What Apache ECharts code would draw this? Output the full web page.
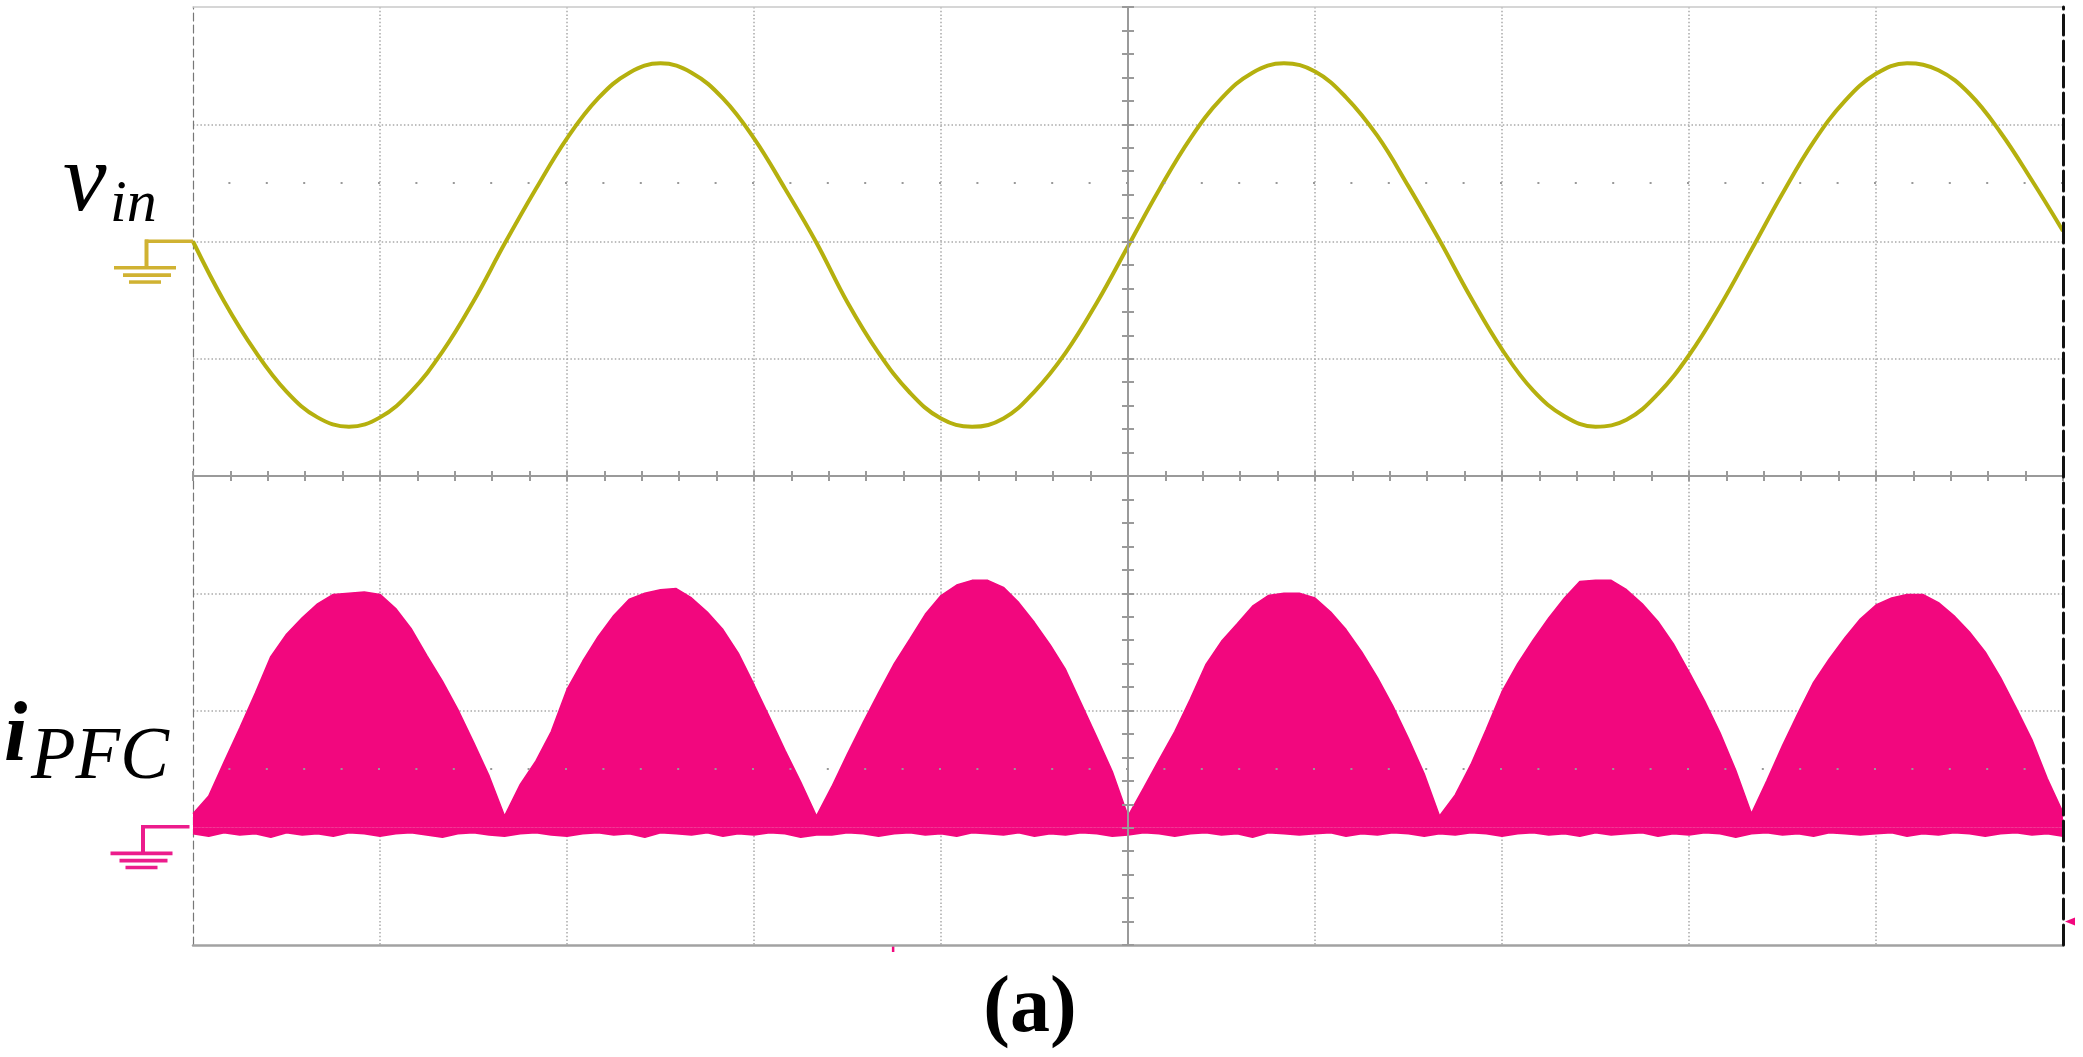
<!DOCTYPE html>
<html><head><meta charset="utf-8">
<script src="https://cdn.jsdelivr.net/npm/echarts@6/dist/echarts.min.js"></script>
<style>html,body{margin:0;padding:0;background:#fff;}#c{width:2083px;height:1057px;}</style>
</head><body><div id="c"></div>
<script>
// ---- data (time in ms, 5 ms/div; vin in V, 100 V/div; iPFC in A, 1 A/div) ----
const timeRange = [-25, 25];
const timeStep = 5;
const vinRange = [-200, 200];
const iRange = [-1, 3];
const vinDotLevel = 50;
const iDotLevel = 0.5;

const tV = [-25,-24.17,-23.33,-22.5,-21.67,-20.83,-20,-19.17,-18.33,-17.5,-16.67,-15.83,-15,-14.17,-13.33,-12.5,-11.67,-10.83,-10,-9.17,-8.33,
  -7.5,-6.67,-5.83,-5,-4.17,-3.33,-2.5,-1.67,-0.83,0,0.83,1.67,2.5,3.33,4.17,5,5.83,6.67,7.5,8.33,
  9.17,10,10.83,11.67,12.5,13.33,14.17,15,15.83,16.67,17.5,18.33,19.17,20,20.83,21.67,22.5,23.33,24.17,25];
const vin = [0,-51,-94,-128,-150,-158,-150,-128,-94,-51,-2,45,88,122,144,152,144,122,88,45,-1,
  -52,-95,-129,-151,-158,-151,-128,-95,-52,-4,44,88,122,144,152,145,123,90,47,1,
  -48,-92,-127,-149,-158,-152,-130,-97,-55,-7,41,85,120,143,152,146,126,93,52,9];

const tI = [-25,-24.58,-24.17,-23.75,-23.33,-22.92,-22.5,-22.08,-21.67,-21.25,-20.83,-20.42,-20,-19.58,-19.17,-18.75,-18.33,-17.92,-17.5,-17.08,-16.67,
  -16.25,-15.83,-15.42,-15,-14.58,-14.17,-13.75,-13.33,-12.92,-12.5,-12.08,-11.67,-11.25,-10.83,-10.42,-10,-9.58,-9.17,-8.75,-8.33,
  -7.92,-7.5,-7.08,-6.67,-6.25,-5.83,-5.42,-5,-4.58,-4.17,-3.75,-3.33,-2.92,-2.5,-2.08,-1.67,-1.25,-0.83,-0.42,0,
  0.42,0.83,1.25,1.67,2.08,2.5,2.92,3.33,3.75,4.17,4.58,5,5.42,5.83,6.25,6.67,7.08,7.5,7.92,8.33,
  8.75,9.17,9.58,10,10.42,10.83,11.25,11.67,12.08,12.5,12.92,13.33,13.75,14.17,14.58,15,15.42,15.83,16.25,16.67,
  17.08,17.5,17.92,18.33,18.75,19.17,19.58,20,20.42,20.83,21.25,21.67,22.08,22.5,22.92,23.33,23.75,24.17,24.58,25];
const iUpper = [0.12,0.27,0.56,0.85,1.15,1.46,1.65,1.79,1.91,1.99,2.00,2.01,1.99,1.87,1.70,1.47,1.25,1.01,0.73,0.44,0.10,
  0.37,0.57,0.82,1.18,1.42,1.63,1.81,1.95,2.00,2.03,2.04,1.96,1.84,1.69,1.49,1.22,0.94,0.66,0.39,0.10,
  0.35,0.63,0.90,1.15,1.40,1.61,1.82,1.98,2.07,2.11,2.11,2.05,1.92,1.75,1.56,1.35,1.06,0.77,0.48,0.10,
  0.34,0.58,0.82,1.10,1.39,1.59,1.74,1.89,1.98,2.00,2.00,1.96,1.84,1.69,1.50,1.28,1.04,0.76,0.46,0.10,
  0.28,0.54,0.84,1.16,1.40,1.60,1.79,1.96,2.10,2.11,2.11,2.03,1.91,1.76,1.57,1.33,1.08,0.81,0.49,0.12,
  0.40,0.70,0.98,1.24,1.44,1.62,1.78,1.90,1.96,1.99,1.99,1.92,1.81,1.67,1.50,1.28,1.02,0.75,0.42,0.13];
const iLower = [-0.05,-0.07,-0.04,-0.06,-0.05,-0.08,-0.04,-0.06,-0.05,-0.07,-0.04,-0.05,-0.07,-0.05,-0.04,-0.06,-0.08,-0.05,-0.04,-0.06,-0.07,
  -0.05,-0.04,-0.06,-0.07,-0.05,-0.04,-0.06,-0.05,-0.08,-0.04,-0.05,-0.06,-0.04,-0.07,-0.05,-0.06,-0.04,-0.05,-0.08,-0.06,
  -0.06,-0.04,-0.05,-0.07,-0.05,-0.04,-0.06,-0.05,-0.07,-0.04,-0.05,-0.06,-0.04,-0.07,-0.05,-0.06,-0.04,-0.05,-0.07,-0.06,
  -0.04,-0.05,-0.07,-0.05,-0.04,-0.06,-0.05,-0.08,-0.04,-0.05,-0.06,-0.05,-0.04,-0.07,-0.05,-0.06,-0.04,-0.05,-0.07,-0.05,
  -0.06,-0.04,-0.05,-0.07,-0.05,-0.04,-0.06,-0.05,-0.07,-0.04,-0.06,-0.05,-0.04,-0.07,-0.05,-0.06,-0.04,-0.05,-0.08,-0.05,
  -0.04,-0.06,-0.05,-0.07,-0.04,-0.05,-0.06,-0.05,-0.04,-0.07,-0.05,-0.06,-0.04,-0.05,-0.07,-0.05,-0.04,-0.06,-0.05,-0.07];
// channel markers (trigger level arrow, trigger position tick)
const iLevelMarker = [25, -0.8];
const trigPosMarker = [-6.28, -1];

// ---- styles ----
const GOLD = '#d0b232', OLIVE = '#b5b00e', PINK = '#f2077e', PINKG = '#ec1c8c';
const GRIDC = '#a9a9a9', CENTER = '#9a9a9a';

const vinData = tV.map((t, i) => [t, vin[i]]);
const lowData = tI.map((t, i) => [t, iLower[i]]);
const upData = tI.map((t, i) => [t, iUpper[i]]);

const L = 193, R = 20, T = 7, H = 469;
const hidden = {axisLine:{show:false}, axisTick:{show:false}, axisLabel:{show:false}, splitLine:{show:false}};
function tAxis(grid, extra) {
  return Object.assign({type:'value', gridIndex:grid, min:timeRange[0], max:timeRange[1], interval:timeStep}, hidden, extra || {});
}
const tickStyle = {color: CENTER, width: 2};
const centerX = (pos) => tAxis(2, {position:pos, offset:-H, z:6,
  axisLine:{show:true, onZero:false, lineStyle:{color:CENTER, width:2}},
  axisTick:{show:true, length:5, lineStyle:tickStyle},
  minorTick:{show:true, splitNumber:5, length:5, lineStyle:tickStyle}});
const centerY = (pos) => Object.assign({type:'value', gridIndex:2, min:-4, max:4, interval:1}, hidden, {position:pos, offset:-935, z:6,
  axisLine:{show:true, onZero:false, lineStyle:{color:CENTER, width:2}},
  axisTick:{show:true, length:6, lineStyle:tickStyle},
  minorTick:{show:true, splitNumber:5, length:6, lineStyle:tickStyle}});

const option = {
  animation:false,
  backgroundColor:'#fff',
  grid:[
    {left:L, right:R, top:T, height:H, containLabel:false, outerBoundsMode:'none'},
    {left:L, right:R, top:T+H, height:H, containLabel:false, outerBoundsMode:'none'},
    {left:L, right:R, top:T, height:2*H, containLabel:false, outerBoundsMode:'none'}
  ],
  xAxis:[
    tAxis(0, {position:'bottom'}),
    tAxis(1, {position:'bottom'}),
    centerX('bottom'),
    centerX('top'),
    tAxis(2, {position:'top', z:0,
      axisLine:{show:true, onZero:false, lineStyle:{color:'#c9c9c9', width:1.5}},
      splitLine:{show:true, showMinLine:false, showMaxLine:false, lineStyle:{color:GRIDC, width:1.5, type:[1.5,2.2]}}}),
    tAxis(2, {position:'bottom', z:6,
      axisLine:{show:true, onZero:false, lineStyle:{color:'#a2a2a2', width:2.5}}})
  ],
  yAxis:[
    Object.assign({type:'value', gridIndex:0, min:vinRange[0], max:vinRange[1], interval:100}, hidden),
    Object.assign({type:'value', gridIndex:1, min:iRange[0], max:iRange[1], interval:1}, hidden),
    centerY('left'),
    centerY('right'),
    Object.assign({type:'value', gridIndex:2, min:-4, max:4, interval:1}, hidden, {position:'left', z:0,
      axisLine:{show:true, onZero:false, lineStyle:{color:'#777', width:1.2, type:[8,4]}},
      splitLine:{show:true, showMinLine:false, showMaxLine:false, lineStyle:{color:GRIDC, width:1.5, type:[1.5,2.2]}}}),
    Object.assign({type:'value', gridIndex:2, min:-4, max:4, interval:1}, hidden, {position:'right', z:7,
      axisLine:{show:true, onZero:false, lineStyle:{color:'#111', width:3, type:[20,6]}}})
  ],
  series:[
    {name:'iPFC low', type:'line', xAxisIndex:1, yAxisIndex:1, data:lowData,
     symbol:'none', showSymbol:false, lineStyle:{color:PINK, width:2}, areaStyle:{color:PINK, opacity:1, origin:'auto'}, z:2, silent:true,
     markLine:{silent:true, symbol:['none','none'], label:{show:false}, data:[{yAxis:iDotLevel}],
       lineStyle:{color:'#999', width:2, type:[2,35.4], dashOffset:2}},
     markPoint:{silent:true, label:{show:false}, data:[
       {coord:iLevelMarker, symbol:'triangle', symbolSize:[8,10], symbolRotate:90, symbolOffset:[7,0], itemStyle:{color:PINK}},
       {coord:trigPosMarker, symbol:'rect', symbolSize:[2.5,6], symbolOffset:[0,4], itemStyle:{color:PINK}}]}},
    {name:'iPFC', type:'line', xAxisIndex:1, yAxisIndex:1, data:upData,
     symbol:'none', showSymbol:false, lineStyle:{color:PINK, width:1.5}, areaStyle:{color:PINK, opacity:1, origin:'auto'}, z:3, silent:true},
    {name:'vin', type:'line', xAxisIndex:0, yAxisIndex:0, data:vinData, smooth:0.4,
     symbol:'none', showSymbol:false, lineStyle:{color:OLIVE, width:4}, z:4, silent:true,
     markLine:{silent:true, symbol:['none','none'], label:{show:false}, data:[{yAxis:vinDotLevel}],
       lineStyle:{color:'#999', width:2, type:[2,35.4], dashOffset:2}}}
  ]
};
const chart = echarts.init(document.getElementById('c'), null, {renderer:'canvas'});
chart.setOption(option);

function ground(anchor, color, dx, dy) {
  const rects = [[-48,-2,48,3.5],[-48.5,-2,4,29.5],[-79,24.5,62,3.6],[-70,31.8,48,3.6],[-64,38.8,32,3.5]];
  return {type:'group', x:anchor[0]+dx, y:anchor[1]+dy, z:20, children: rects.map(r => ({
    type:'rect', shape:{x:r[0], y:r[1], width:r[2], height:r[3]}, style:{fill:color}, z:20}))};
}
function txt(s, x, y, font, align) {
  return {type:'text', z:20, style:{text:s, x:x, y:y, font:font, fill:'#000',
    align:align||'left', textAlign:align||'left', verticalAlign:'middle', textVerticalAlign:'middle'}};
}
const pv = chart.convertToPixel({xAxisIndex:0, yAxisIndex:0}, [timeRange[0], 0]);
const pi = chart.convertToPixel({xAxisIndex:1, yAxisIndex:1}, [timeRange[0], 0]);
chart.setOption({graphic:[
  ground(pv, GOLD, 0, 0),
  ground(pi, PINKG, -3.5, -0.7),
  txt('v', 63, 184, 'italic 98px "Liberation Serif"'),
  txt('in', 110, 205, 'italic 60px "Liberation Serif"'),
  txt('i', 4, 738, 'italic bold 84px "Liberation Serif"'),
  txt('PFC', 31, 759, 'italic 73px "Liberation Serif"'),
  txt('(a)', 1030, 1010, 'bold 80px "Liberation Serif"', 'center')
]});
</script></body></html>
